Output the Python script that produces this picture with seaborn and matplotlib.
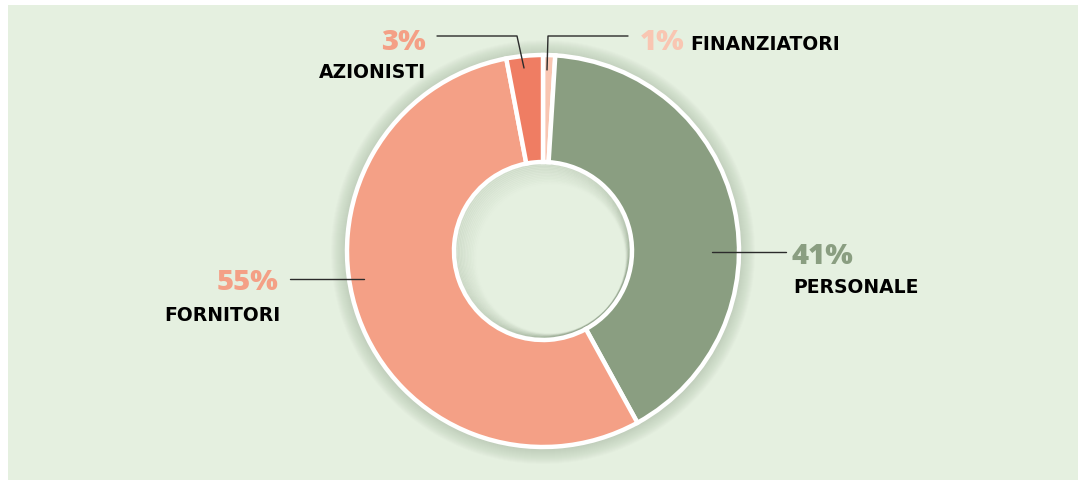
import matplotlib
matplotlib.use("Agg")
import matplotlib.pyplot as plt
from matplotlib.patches import Rectangle, Circle
import seaborn as sns
import numpy as np

# ---- data ----
categories = ["FINANZIATORI", "PERSONALE", "FORNITORI", "AZIONISTI"]
values = [1, 41, 55, 3]
pct_labels = ["1%", "41%", "55%", "3%"]
colors = ["#f9c6b2", "#8a9e81", "#f4a086", "#ef7d63"]
pct_colors = ["#f9c6b2", "#8a9e81", "#f4a086", "#f4a086"]

sns.set_theme(style="white")
plt.rcParams['font.family'] = ['DejaVu Sans']

W, H = 1080, 481
fig = plt.figure(figsize=(W / 100, H / 100), dpi=100)
fig.patch.set_facecolor("white")
ax = fig.add_axes([0, 0, 1, 1])
ax.set_xlim(0, W)
ax.set_ylim(H, 0)
ax.axis("off")

BG = "#e5f0e0"
ax.add_patch(Rectangle((8, 6), 1070, 480, facecolor=BG, edgecolor="none", zorder=0))

cx, cy, R, r_in = 543, 252, 196, 89

# soft outer shadow
for k in range(16, 0, -1):
    ax.add_patch(Circle((cx, cy + 1), R + k, facecolor="#556a50",
                        alpha=0.016, edgecolor="none", zorder=1))

# pie (y axis inverted -> counterclock True gives clockwise on screen)
wedges, _ = ax.pie(values, colors=colors, startangle=-90, counterclock=True,
                   center=(cx, cy), radius=R, frame=True,
                   wedgeprops=dict(width=R - r_in, edgecolor="white", linewidth=3.2))
for w in wedges:
    w.set_zorder(3)
ax.set_xlim(0, W)
ax.set_ylim(H, 0)
ax.set_aspect("auto")
ax.axis("off")

# inner hole shadow
ax.add_patch(Circle((cx, cy), r_in - 2, facecolor=BG, edgecolor="none", zorder=2))
for k in range(14):
    ax.add_patch(Circle((cx + 0.6 * k, cy + 0.6 * k), r_in - 2 - k * 0.9,
                        facecolor="none", edgecolor="#6f8468",
                        linewidth=1.6, alpha=0.12 * (1 - k / 14), zorder=2.5))

lc = "#2b2b2b"
lw = 1.0
pct_fs = 21
lab_fs = 13.5
pct_font = ['Open Sans', 'DejaVu Sans']
lab_font = ['DejaVu Sans']
pct_kw = dict(fontsize=pct_fs, fontweight=800, fontstyle="normal",
              va="center", family=pct_font)
lab_kw = dict(color="black", fontsize=lab_fs, fontweight="bold",
              fontstyle="normal", va="center", family=lab_font)

# PERSONALE
ax.plot([712, 786], [253, 253], color=lc, lw=lw, zorder=5)
ax.text(792, 256, pct_labels[1], color=pct_colors[1], ha="left", **pct_kw)
ax.text(793, 288, categories[1], ha="left", **lab_kw)

# FORNITORI
ax.plot([290, 364], [280, 280], color=lc, lw=lw, zorder=5)
ax.text(278, 283, pct_labels[2], color=pct_colors[2], ha="right", **pct_kw)
ax.text(281, 316, categories[2], ha="right", **lab_kw)

# AZIONISTI
ax.plot([437, 517, 524], [37, 37, 69], color=lc, lw=lw, zorder=5)
ax.text(426, 42, pct_labels[3], color=pct_colors[3], ha="right", **pct_kw)
ax.text(426, 73, categories[3], ha="right", **lab_kw)

# FINANZIATORI
ax.plot([628, 548, 547], [37, 37, 71], color=lc, lw=lw, zorder=5)
ax.text(640, 42, pct_labels[0], color=pct_colors[0], ha="left", **pct_kw)
ax.text(690, 45, categories[0], ha="left", **lab_kw)

fig.savefig("out.png", dpi=100, facecolor=fig.get_facecolor())
